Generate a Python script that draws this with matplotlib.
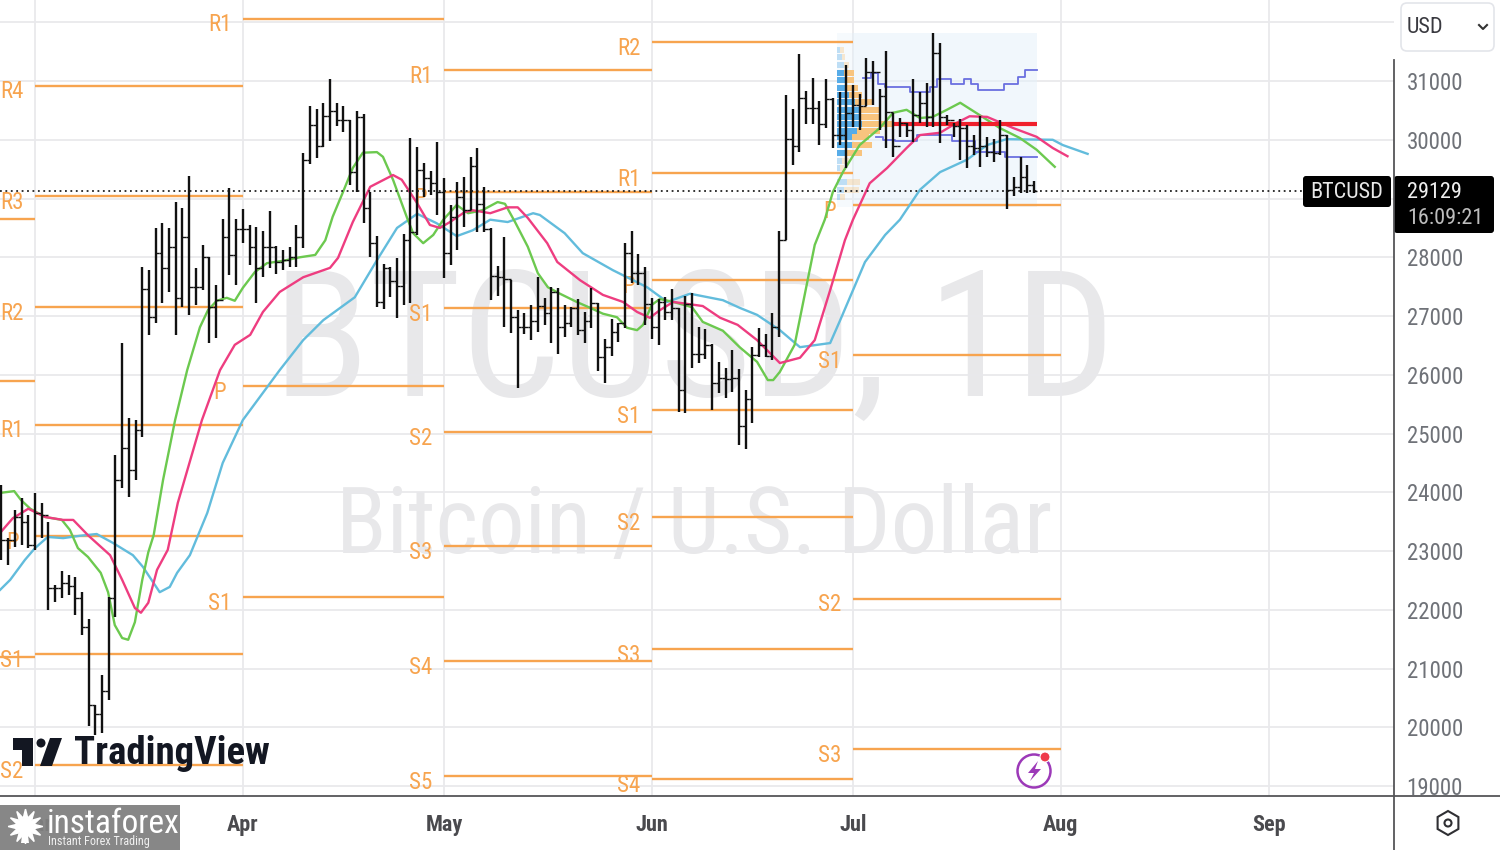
import numpy as np
import matplotlib
matplotlib.use("Agg")
import matplotlib.pyplot as plt
from matplotlib.patches import Rectangle, FancyBboxPatch, Circle, Polygon, RegularPolygon

plt.rcParams['font.family'] = ['Roboto Condensed', 'Liberation Sans', 'DejaVu Sans']

# ---------- DATA ----------
first_day = -5              # days counted from 1 March
first_open = 23190
highs = [24120,23220,23700,23900,23610,23990,23820,23500,22420,22660,
         22590,22560,22300,21840,20380,20890,22220,24640,26540,25270,
         25230,27840,27780,28500,28580,28500,28940,28840,29380,27820,
         28210,28000,27530,28650,29180,28650,28820,28550,28520,28450,
         28790,28190,28120,28180,28550,29780,30580,30520,30630,31030,
         30630,30580,30340,30490,30440,29110,28360,27890,27840,27990,
         28400,30030,29880,29610,29470,29960,29350,28890,29280,29370,
         29710,29860,29200,28500,27850,28350,27610,27100,27050,27190,
         27660,27310,27490,27480,27190,27150,27290,27070,27480,27220,
         26610,26950,26880,28240,28450,28060,27840,27310,27290,27320,
         27460,27140,27340,27390,26810,26780,26520,26220,26120,26420,
         26100,25740,26470,26800,26690,27050,28450,30760,30520,31460,
         30830,31050,30660,31030,30710,30810,31270,30930,30780,31390,
         31340,30860,31510,30460,30370,30290,31030,30810,30970,31820,
         31650,30420,30290,30350,30250,30080,30410,30050,30010,30340,
         30080,29370,29710,29570,29300]
lows = [22850,22760,23070,23100,23050,23020,23220,22000,22130,22200,
        22250,21910,21570,20020,19870,19900,20470,21880,24070,23920,
        24210,24940,26680,26880,27220,27410,26680,27150,27020,27190,
        27440,26540,26630,27310,27700,27530,28240,27870,27220,27660,
        27820,27720,27780,27840,27840,28160,29590,29690,29880,29980,
        30230,30130,29230,29110,28580,28000,27150,27120,27320,26970,
        27190,27220,28380,29030,29060,28720,27650,27870,28120,28520,
        28810,28430,28430,27270,27340,26810,26710,25780,26690,26590,
        26730,26850,26540,26350,26640,26810,26680,26540,26800,26060,
        25860,26320,26560,26800,27560,27530,26850,26610,26510,26930,
        26930,25370,25350,26120,26200,26270,25400,25690,25610,25710,
        24810,24740,25180,26300,26300,26250,26640,28290,29570,29790,
        30270,30270,29910,30200,29860,29910,29520,30220,30170,30580,
        30590,30170,29860,29710,30050,30050,29960,30290,30220,30220,
        29950,30250,30050,29660,29520,29740,29540,29710,29620,29740,
        28820,29040,29090,29090,29090]
closes = [23190,23190,23580,23500,23100,23650,23610,22370,22370,22460,
          22410,22200,21710,20380,20230,20620,22200,24210,24750,24380,
          25060,27460,26980,28070,27820,28180,27310,28350,27490,27490,
          28000,27150,27270,28350,28040,28480,28480,28180,27820,28180,
          28180,27920,27950,28000,28350,29660,30250,29890,30410,30490,
          30340,30340,29450,30390,28840,28240,27240,27820,27600,27510,
          28290,28430,29490,29350,29260,29110,28070,28690,29030,28810,
          29550,28910,28480,27680,27660,27630,26980,26810,26810,26920,
          27170,27050,27410,26810,26880,27140,26760,26920,27220,26300,
          26470,26730,26880,28070,27730,27730,27210,26810,27240,27070,
          27140,25740,27210,26350,26350,26510,25860,25950,25930,25950,
          25130,25590,26340,26510,26320,26810,28290,30010,29890,30710,
          30540,30540,30270,30690,30080,30080,30460,30590,30580,31150,
          31150,30750,30470,29890,30290,30170,30420,30630,30390,31480,
          30390,30340,30230,30200,29890,29860,29890,29790,29780,30080,
          29150,29200,29370,29230,29129]

green_days = [-5.2,-3.1,-2.1,-0.7,1.5,4.0,5.2,6.4,7.9,9.8,10.9,11.9,13,13.9,14.9,16,16.9,17.7,19.1,20.9,
              22.7,24.6,25.8,27.1,28.6,29.8,31,32.8,34.6,37,39.5,41.8,43.3,44.4,45.9,47.4,48.9,51,51.9,53.4,
              55.5,56.4,57.9,59.4,60.9,62.9,64.6,66.7,69,70.1,71.6,73.5,75,76.5,78.3,80.8,82.8,84.7,86.8,88.3,
              89.8,90.7,92,93.2,95.2,98,99.6,102.6,105.1,107.7,109.3,110.1,111.1,113.3,114.8,116.3,117.8,119,120.5,123,
              126,128,130,132,133.9,136,138,140.9,143.9,146.9,149.4,152.1]
green_vals = [23990,24020,23870,23720,23580,23530,23360,23050,22900,22630,22300,21740,21520,21490,21790,22510,22980,23270,24210,25230,
              26080,26810,27100,27260,27310,27260,27480,27750,27900,27940,28000,28040,28290,28690,29100,29520,29780,29790,29710,29320,
              28670,28410,28240,28380,28640,28890,28750,28800,28940,28910,28600,28180,27730,27490,27380,27240,27140,27040,26980,26800,
              26760,26850,27190,27290,27240,27150,26900,26750,26470,26220,25910,25910,26050,26510,27360,28210,28640,29110,29450,29910,
              30200,30460,30510,30370,30390,30510,30630,30420,30200,30030,29830,29540]

pink_days = [-5.2,-3.3,-1,1.5,4.2,5.7,7.9,11.2,13,14.9,15.8,16.9,18.2,19.8,21.3,24.9,27.6,29.8,32.1,34,
             36.5,40,44,45.2,47.4,50,53.4,54.7,57,58.9,60.4,61.9,64.1,65.3,67.9,70.5,72,73.5,76.4,77.9,
             81.3,84.7,87.7,89.8,91.7,93.2,95.2,99.6,102.2,104.8,107.7,111.1,114.1,116.3,118.6,120.8,122,124.5,127.1,130,
             132,135,137.5,139.4,142,145.9,149.4,151.8,154]
pink_vals = [23310,23560,23720,23580,23530,23530,23270,22930,22510,22030,21950,22120,22680,23020,23820,25230,26080,26510,26680,27070,
             27410,27660,27820,27990,28600,29200,29400,29320,28920,28550,28500,28600,28770,28800,28750,28850,28850,28670,28240,27920,
             27610,27360,27240,27070,26970,27100,27240,27170,26970,26850,26590,26200,26290,26590,27440,28290,28640,29260,29520,29860,
             30080,30120,30290,30400,30390,30200,30050,29860,29720]

blue_days = [-5.2,-3.7,-1.5,0,1.9,4.2,6.7,9.2,11.6,14.6,16.1,18.6,20.1,21.2,23.1,25.7,28,31,36.5,40,
             43,47.7,51,54,57,59.9,62.9,65.3,67.9,70.5,74.3,75.3,79,81.7,86.2,91.3,94.3,97.7,102.6,105.1,
             107.7,111.1,114.1,118.6,120.1,123.8,126.8,129,132,135,139,142,144.9,151.8,153.3,157]
blue_vals = [22340,22510,22850,23050,23240,23220,23260,23290,23140,22930,22730,22300,22390,22630,22930,23650,24500,25230,26080,26590,
             26930,27320,27950,28500,28740,28580,28360,28460,28640,28600,28750,28720,28410,28070,27780,27490,27240,27380,27270,27140,
             27020,26760,26470,26540,26930,27920,28380,28640,29150,29450,29660,29910,30010,30000,29910,29760]

feb_levels = [28650,25890,21200]
mar_levels = [30920,29040,27150,25150,23260,21250,19360]
mar_names = ['R4','R3','R2','R1','P','S1','S2']
apr_levels = [32060,25810,22220]
apr_names = ['R1','P','S1']
may_levels = [31190,29110,27140,25030,23090,21130,19170]
may_names = ['R1','P','S1','S2','S3','S4','S5']
jun_levels = [31660,29430,27610,25400,23580,21330,19120]
jun_names = ['R2','R1','P','S1','S2','S3','S4']
jul_levels = [28890,26340,22190,19630]
jul_names = ['P','S1','S2','S3']

vp_prices = [31530,31410,31270,31140,31020,30880,30760,30640,30510,30390,30270,30150,30050,29910,29775,29640,29520,29280,29150,29030]
vp_up = [.5,.75,1,1.1,1.25,1.4,1.75,2.75,3.25,3.25,3.75,3,2.25,2.25,1.25,.75,.5,1.5,1,.5]
vp_down = [.5,.5,.75,1.5,1.35,1.7,2,2.75,3,3.25,4.75,3.5,2.5,3,2.5,1,.5,2,2.25,.75]

vah_days = [123.5,124.7,125.7,126.8,130.5,133.5,134.5,136.6,138.6,139.6,140.6,144.5,146.6,147.7,149.4]
vah_vals = [31050,31140,30950,30900,30810,30900,31030,30950,31030,30950,30850,30950,31070,31190,31190]
val_days = [125.5,126.5,128.3,131.5,136.7,140.2,144.7,149.4]
val_vals = [30050,30000,29980,30080,29980,29790,29710,29710]
poc_price = 30270
poc_start, poc_end = 128.0, 149.4
range_top, range_bottom = 31820, 28860
last_price = 29129

month_days = [0,31,61,92,122,153,184]
month_names = ['Mar','Apr','May','Jun','Jul','Aug','Sep']
price_ticks = list(range(19000,33000,1000))
# --------------------------

fig = plt.figure(figsize=(15,8.5), dpi=100, facecolor='white')
ax = fig.add_axes([0, 54/850, 1394/1500, 796/850])
ax.set_xlim(-5.22, 202.7)
ax.set_ylim(18831, 32379)
for s in ax.spines.values():
    s.set_visible(False)
ax.grid(True, color='#e9e9ec', lw=1.3, zorder=0)
ax.set_axisbelow(True)
ax.yaxis.tick_right()
ax.set_yticks(price_ticks)
ax.set_yticklabels([str(p) if p <= 31000 else '' for p in price_ticks], color='#6f7278', fontsize=16.5, ha='left')
ax.set_xticks(month_days)
ax.set_xticklabels(month_names, color='#4a4a4e', fontsize=16, fontweight='bold')
ax.tick_params(axis='y', length=0, pad=9)
ax.tick_params(axis='x', length=0, pad=13)

# watermark
ax.text(0.498, 0.5635, 'BTCUSD, 1D', transform=ax.transAxes, ha='center', va='center',
        fontsize=127, color='#e8e8ea', zorder=0.5)
ax.text(0.498, 0.337, 'Bitcoin / U.S. Dollar', transform=ax.transAxes, ha='center', va='center',
        fontsize=66.7, color='#e8e8ea', zorder=0.5)

# pivots
ORANGE = '#f7a44f'
def pivots(start, end, levels, names=None):
    ax.hlines(levels, start, end, color=ORANGE, lw=1.7, zorder=2)
    if names:
        for lv, nm in zip(levels, names):
            ax.annotate(nm, (start, lv), xytext=(-16.5, -4.5), textcoords='offset points',
                        ha='center', va='center', color=ORANGE, fontsize=16.5, zorder=2, annotation_clip=False)
pivots(-6, 0, feb_levels)
pivots(0, 31, mar_levels, mar_names)
pivots(31, 61, apr_levels, apr_names)
pivots(61, 92, may_levels, may_names)
pivots(92, 122, jun_levels, jun_names)
pivots(122, 153, jul_levels, jul_names)

# session volume profile range
ax.add_patch(Rectangle((122, range_bottom), 149.4-122, range_top-range_bottom, fc='#e4f1fb', alpha=0.5, ec='none', zorder=1))
ax.add_patch(Rectangle((119.6, range_bottom), 122-119.6, range_top-range_bottom, fc='#e4f1fb', alpha=0.3, ec='none', zorder=1))
vp_p = np.array(vp_prices); vp_u = np.array(vp_up); vp_d = np.array(vp_down)
core = (vp_p < 31200) & (vp_p > 29700)
for mask, a in ((core, 1.0), (~core, 0.35)):
    ax.barh(vp_p[mask], vp_u[mask], left=119.6, height=95, color='#57ace8', alpha=a, zorder=2.2)
    ax.barh(vp_p[mask], vp_d[mask], left=119.6+vp_u[mask], height=95, color='#f8c47e', alpha=a, zorder=2.2)

# moving averages
ax.plot(blue_days, blue_vals, color='#62bcdc', lw=1.7, zorder=3)
ax.plot(green_days, green_vals, color='#6cc94f', lw=1.7, zorder=3)
ax.plot(pink_days, pink_vals, color='#ee3d80', lw=1.7, zorder=3.1)

# value area + POC
ax.plot(vah_days, vah_vals, drawstyle='steps-post', color='#6a6fe0', lw=1.3, zorder=3)
ax.plot(val_days, val_vals, drawstyle='steps-post', color='#6a6fe0', lw=1.3, zorder=3)
ax.hlines(poc_price, poc_start, poc_end, color='#f0202c', lw=3, zorder=3.2)

# OHLC bars
days = np.arange(first_day, first_day+len(closes))
opens = np.r_[first_open, closes[:-1]]
ax.vlines(days, lows, highs, color='#111111', lw=1.7, zorder=4)
ax.hlines(opens, days-0.5, days, color='#111111', lw=1.0, zorder=4)
ax.hlines(closes, days, days+0.5, color='#111111', lw=1.0, zorder=4)

# last price line
ax.axhline(last_price, color='#222222', lw=1.3, ls=(0,(1,2)), zorder=3.5, xmax=1302/1394)

# overlay in pixel space for the interface furniture
ov = fig.add_axes([0,0,1,1], zorder=5)
ov.set_xlim(0,1500); ov.set_ylim(850,0); ov.axis('off'); ov.patch.set_alpha(0)
ov.plot([0,1500],[796,796], color='#555558', lw=1.3)
ov.plot([1394,1394],[60,850], color='#555558', lw=1.3)

# USD box
ov.add_patch(FancyBboxPatch((1401,3),93,48, boxstyle='round,pad=0,rounding_size=6', fc='white', ec='#e3e5ea', lw=1.2))
ov.text(1407,27,'USD', color='#3a3a40', fontsize=16, va='center', ha='left')
ov.plot([1479,1483,1487],[25,29,25], color='#333333', lw=1.5)

# price tags
ov.add_patch(FancyBboxPatch((1303,176),88,31, boxstyle='round,pad=0,rounding_size=3', fc='black', ec='none'))
ov.text(1347,192,'BTCUSD', color='#e8e8e8', fontsize=16, ha='center', va='center')
ov.add_patch(FancyBboxPatch((1394,176),100,57, boxstyle='round,pad=0,rounding_size=3', fc='black', ec='none'))
ov.text(1407,192,'29129', color='#eeeeee', fontsize=16, ha='left', va='center')
ov.text(1407,218,'16:09:21', color='#bdbdbd', fontsize=16, ha='left', va='center')

# TradingView logo
DARK = '#131722'
ov.add_patch(Polygon([(13,738),(33,738),(33,766),(22,766),(22,750),(13,750)], fc=DARK, ec='none'))
ov.add_patch(Circle((41,743),4.5, fc=DARK, ec='none'))
ov.add_patch(Polygon([(50,738),(62,738),(52,766),(40,766)], fc=DARK, ec='none'))
ov.text(74,754,'TradingView', color=DARK, fontsize=28, fontweight='bold', va='center', ha='left')

# InstaForex block
ov.add_patch(Rectangle((0,805),180,45, fc='#808080', alpha=0.94, ec='none'))
ov.plot([25],[826], marker=(12,1,0), ms=25, color='white', mec='white')
ov.add_patch(Circle((25,826),9, fc='#808080', ec='none'))
ov.add_patch(Circle((25,822),3.5, fc='white', ec='none'))
ov.add_patch(Polygon([(21,843),(23,828),(27,828),(29,843)], fc='white', ec='none'))
ov.text(47,824,'instaforex', color='white', fontsize=24, va='center', ha='left')
ov.text(48,841,'Instant Forex Trading', color='#f0f0f0', fontsize=8.7, va='center', ha='left')

# bolt badge
ov.add_patch(Circle((1034,771),16.5, fc='none', ec='#9c39b8', lw=1.8))
ov.add_patch(Polygon([(1038,761),(1028,773),(1034,773),(1030,781),(1041,769),(1035,769)], fc='#9c39b8', ec='none'))
ov.add_patch(Circle((1045,757),5, fc='#ef3b4a', ec='white', lw=0.8))

# settings hexagon
ov.add_patch(RegularPolygon((1448,823),6,radius=12, fc='none', ec='#2f2f33', lw=1.5))
ov.add_patch(Circle((1448,823),3.5, fc='none', ec='#2f2f33', lw=1.5))

fig.savefig('out.png', dpi=100, facecolor='white')
